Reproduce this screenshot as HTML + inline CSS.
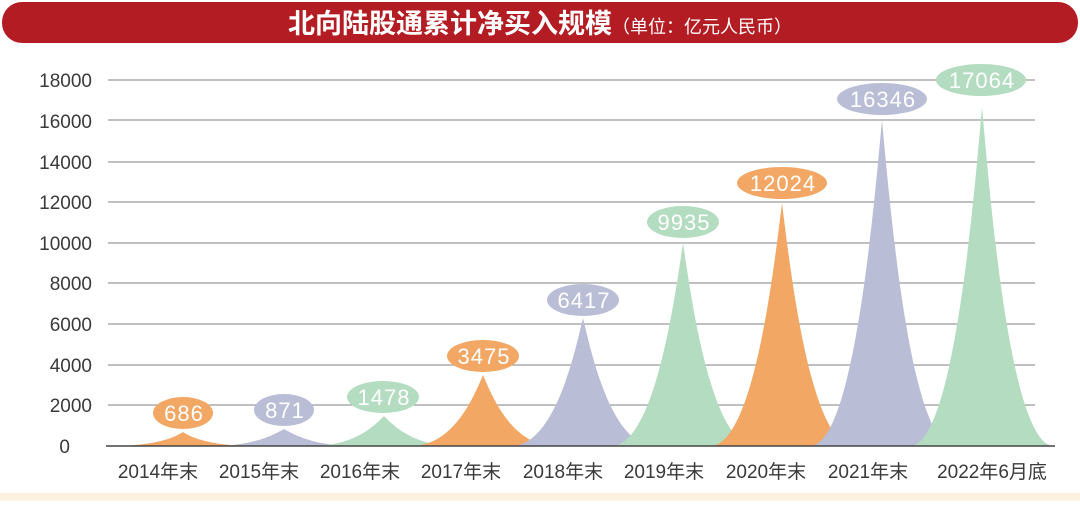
<!DOCTYPE html>
<html><head><meta charset="utf-8"><style>
body{margin:0;width:1080px;height:501px;background:#fff;overflow:hidden;font-family:"Liberation Sans","Noto Sans CJK SC",sans-serif}
</style></head><body>
<svg width="1080" height="501" viewBox="0 0 1080 501" xmlns="http://www.w3.org/2000/svg">
<rect x="0" y="493" width="1080" height="8" fill="#fbf1de"/>
<rect x="2" y="2" width="1076" height="41" rx="20" fill="#b31c22"/>
<text x="540" y="33" text-anchor="middle" fill="#fff" font-family="'Noto Sans CJK SC',sans-serif" font-weight="bold" font-size="27">北向陆股通累计净买入规模<tspan font-size="18" font-weight="normal">（单位：亿元人民币）</tspan></text>
<g stroke="#9a9a9a" stroke-width="1.2">
<line x1="108" x2="1035" y1="80" y2="80"/><line x1="108" x2="1035" y1="120" y2="120"/>
<line x1="108" x2="1035" y1="162" y2="162"/><line x1="108" x2="1035" y1="202" y2="202"/>
<line x1="108" x2="1035" y1="243" y2="243"/><line x1="108" x2="1035" y1="283" y2="283"/>
<line x1="108" x2="1035" y1="324" y2="324"/><line x1="108" x2="1035" y1="365" y2="365"/>
<line x1="108" x2="1035" y1="405" y2="405"/>
</g>
<g font-size="19" fill="#3a3a3a" text-anchor="end">
<text x="92" y="87">18000</text><text x="92" y="128">16000</text><text x="92" y="169">14000</text>
<text x="92" y="209">12000</text><text x="92" y="250">10000</text><text x="92" y="290">8000</text>
<text x="92" y="331">6000</text><text x="92" y="372">4000</text><text x="92" y="412">2000</text>
<text x="70" y="453">0</text>
</g>
<g>
<path fill="#f3a765" d="M111,446 C154,446 174,438 183,432 C192,438 212,446 255,446Z"/>
<path fill="#b9bdd6" d="M212,446 C255,446 275,434 284,429 C293,434 313,446 356,446Z"/>
<path fill="#b3dcc0" d="M312,446 C355,446 375,425 384,416 C393,425 413,446 456,446Z"/>
<path fill="#f3a765" d="M411,446 C454,446 474,396 483,375 C492,396 512,446 555,446Z"/>
<path fill="#b9bdd6" d="M511,446 C554,446 574,356 583,318 C592,356 612,446 655,446Z"/>
<path fill="#b3dcc0" d="M611,446 C654,446 674,304 683,243 C692,304 712,446 755,446Z"/>
<path fill="#f3a765" d="M710,446 C753,446 773,276 782,203 C791,276 811,446 854,446Z"/>
<path fill="#b9bdd6" d="M810,446 C853,446 873,218 882,120 C891,218 911,446 954,446Z"/>
<path fill="#b3dcc0" d="M910,446 C953,446 973,209 982,107 C991,209 1011,446 1054,446Z"/>
</g>
<line x1="106" x2="1055" y1="446" y2="446" stroke="#444" stroke-width="1.5"/>
<g font-size="19" fill="#3a3a3a" text-anchor="middle" font-family="'Liberation Sans','Noto Sans CJK SC',sans-serif">
<text x="158" y="478">2014年末</text><text x="259" y="478">2015年末</text><text x="360" y="478">2016年末</text>
<text x="461" y="478">2017年末</text><text x="563" y="478">2018年末</text><text x="664" y="478">2019年末</text>
<text x="766" y="478">2020年末</text><text x="868" y="478">2021年末</text><text x="992" y="478">2022年6月底</text>
</g>
<g font-size="22" fill="#fff" text-anchor="middle" letter-spacing="1">
<ellipse cx="183" cy="413" rx="30" ry="16" fill="#f3a765"/><text x="184" y="421">686</text>
<ellipse cx="284" cy="410" rx="30" ry="16" fill="#b9bdd6"/><text x="285" y="418">871</text>
<ellipse cx="383" cy="397" rx="36" ry="16" fill="#b3dcc0"/><text x="384" y="405">1478</text>
<ellipse cx="483" cy="356" rx="36" ry="16" fill="#f3a765"/><text x="484" y="364">3475</text>
<ellipse cx="583" cy="300" rx="36" ry="16" fill="#b9bdd6"/><text x="584" y="308">6417</text>
<ellipse cx="683" cy="222" rx="36" ry="16" fill="#b3dcc0"/><text x="684" y="230">9935</text>
<ellipse cx="782" cy="183" rx="45" ry="16" fill="#f3a765"/><text x="783" y="191">12024</text>
<ellipse cx="882" cy="99" rx="45" ry="16" fill="#b9bdd6"/><text x="883" y="107">16346</text>
<ellipse cx="981" cy="80" rx="45" ry="16" fill="#b3dcc0"/><text x="982" y="88">17064</text>
</g>
</svg>
</body></html>
